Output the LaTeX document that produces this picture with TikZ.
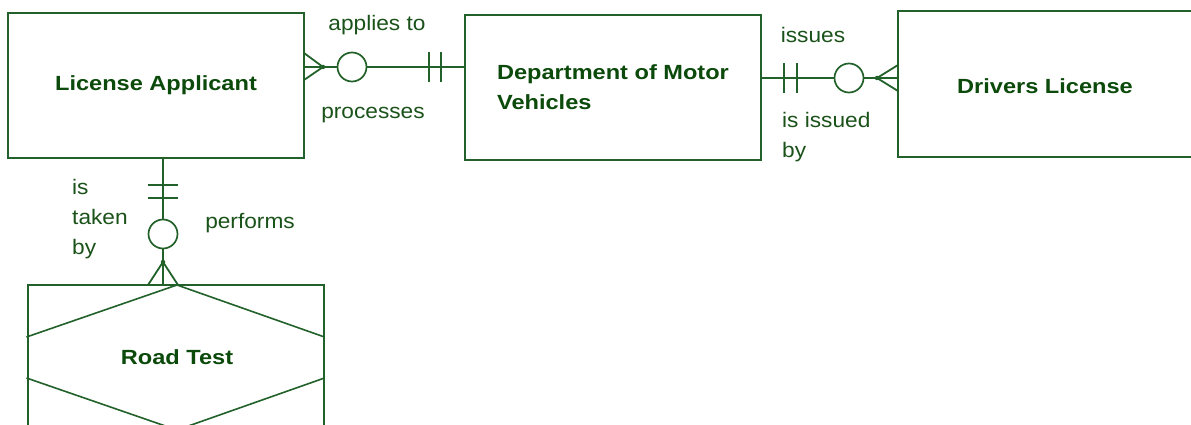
\documentclass[tikz,border=0pt]{standalone}
\usepackage{fontspec}
\setmainfont{Liberation Sans}
\newfontfamily\entfont[FakeStretch=1.15]{Liberation Sans}
\newfontfamily\lblfont[FakeStretch=1.08]{Liberation Sans}
\usetikzlibrary{calc}
\definecolor{ln}{HTML}{22622A}
\definecolor{ent}{HTML}{0B4A0B}
\definecolor{lbl}{HTML}{1A521A}
\begin{document}
\begin{tikzpicture}[x=1pt,y=-1pt,
  entity/.style={draw=ln, line width=2pt, rectangle, inner sep=0pt, minimum width=296pt, minimum height=145pt,
     font=\entfont\bfseries\fontsize{20.5pt}{30pt}\selectfont, text=ent, align=left},
  conn/.style={draw=ln, line width=1.8pt},
  opt/.style={circle, draw=ln, line width=1.7pt, minimum size=29pt, inner sep=0pt},
  lbl/.style={font=\lblfont\fontsize{21pt}{30pt}\selectfont, text=lbl, inner sep=0pt, align=left},
  dot/.style={fill=ln, draw=none, circle, minimum size=4.5pt, inner sep=0pt}]
\useasboundingbox (0,0) rectangle (1191,425);
\clip (0,0) rectangle (1191,425);
\fill[white] (0,0) rectangle (1191,425);

% entities
\node[entity] (LA) at (156,85.5) {License Applicant};
\node[entity] (DMV) at (613,87.5) {Department of Motor\\Vehicles};
\node[entity] (DL) at (1046,84) {};
\node[text=ent, font=\entfont\bfseries\fontsize{20.5pt}{30pt}\selectfont] (DLt) at (1045,86) {Drivers License};
\node[entity] (RT) at (175.5,357.5) {};
\node[text=ent, font=\entfont\bfseries\fontsize{20.5pt}{30pt}\selectfont] (RTt) at (177,357) {Road Test};

% hexagon inside Road Test
\coordinate (hT) at (177,285);
\coordinate (hB) at (177,430);
\draw[ln, line width=1.6pt] (RT.west |- 0,337) -- (hT) -- (RT.east |- 0,337);
\draw[ln, line width=1.6pt] (RT.west |- 0,378) -- (hB) -- (RT.east |- 0,378);

% LA -- DMV
\coordinate (v1) at (323,67);
\node[opt] (c1) at (352,67) {};
\draw[conn] (LA.east |- v1) -- (c1.west);
\draw[conn] (v1) -- ++(-19,-14);
\draw[conn] (v1) -- ++(-19,13);
\node[dot] at (v1) {};
\draw[conn] (c1.east) -- (DMV.west |- v1);
\draw[conn] ($(DMV.west |- v1)+(-35,-15)$) -- ++(0,30);
\draw[conn] ($(DMV.west |- v1)+(-23,-15)$) -- ++(0,30);
\node[lbl] (l1) at (377,25) {applies to};
\node[lbl] (l2) at (373,115) {processes};

% DMV -- DL
\coordinate (v2) at (877,78);
\node[opt] (c2) at (849,78) {};
\draw[conn] (DMV.east |- v2) -- (c2.west);
\draw[conn] ($(DMV.east |- v2)+(22,-15)$) -- ++(0,30);
\draw[conn] ($(DMV.east |- v2)+(35,-15)$) -- ++(0,30);
\draw[conn] (c2.east) -- (DL.west |- v2);
\draw[conn] (v2) -- ++(21,-13);
\draw[conn] (v2) -- ++(21,13);
\node[dot] at (v2) {};
\node[lbl] (l3) at (813,35) {issues};
\node[lbl, anchor=north west] (l4) at (782,112) {is issued\\by};

% LA -- RT
\coordinate (v3) at (163,262);
\node[opt] (c3) at (163,234) {};
\draw[conn] (LA.south -| v3) -- (c3.north);
\draw[conn] ($(LA.south -| v3)+(-15,26)$) -- ++(30,0);
\draw[conn] ($(LA.south -| v3)+(-15,39)$) -- ++(30,0);
\draw[conn] (c3.south) -- (RT.north -| v3);
\draw[conn] (v3) -- ++(-15,23);
\draw[conn] (v3) -- ++(15,23);
\node[dot] at (v3) {};
\node[lbl, anchor=north west] (l5) at (72,179) {is\\taken\\by};
\node[lbl] (l6) at (250,223) {performs};
\end{tikzpicture}
\end{document}
